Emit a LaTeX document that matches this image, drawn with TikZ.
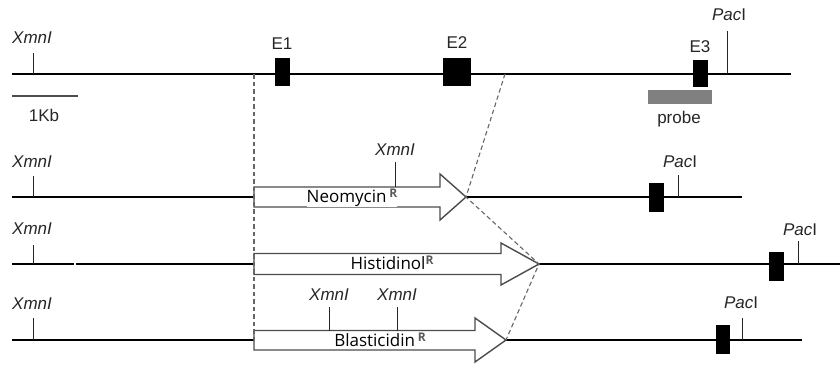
\documentclass[tikz,border=0pt]{standalone}
\usepackage{fontspec}
\setmainfont{Liberation Sans}
\newfontfamily\arrfont{Open Sans}
\begin{document}
\begin{tikzpicture}[x=1pt,y=-1pt,
  chrom/.style={line width=2pt,black},
  tick/.style={line width=1pt,black!85},
  exon/.style={fill=black,draw=black,line width=0.5pt},
  lbl/.style={font=\fontsize{17}{17}\selectfont,inner sep=0pt,text=black!85},
  enz/.style={font=\fontsize{17}{17}\selectfont\itshape,inner sep=0pt,text=black!85},
  cassette/.style={draw=black!70,fill=white,line width=1.4pt,line join=miter},
  alab/.style={font=\arrfont\fontsize{17}{17}\selectfont,inner sep=0pt,fill=white},
  guide/.style={line width=1.1pt,black!60,dash pattern=on 4.5pt off 3pt}]
\useasboundingbox (0,0) rectangle (840,367);

% ---------- Row 1: genomic locus ----------
\coordinate (r1a) at (12,74);
\coordinate (r1b) at (791,74);
\draw[chrom] (r1a) -- (r1b);
\coordinate (x1t) at (33,53); \coordinate (x1b) at (33,74);
\draw[tick] (x1t) -- (x1b);
\node[enz] (x1) at (32,38) {XmnI};
\coordinate (p1t) at (727,31); \coordinate (p1b) at (727,74);
\draw[tick] (p1t) -- (p1b);
\node[lbl] (p1) at (729,15) {\textit{Pac}I};
\node[exon,minimum width=14pt,minimum height=27pt,inner sep=0pt] (e1) at (282,71.5) {};
\node[exon,minimum width=27pt,minimum height=27pt,inner sep=0pt] (e2) at (456.5,71.5) {};
\node[exon,minimum width=14pt,minimum height=26pt,inner sep=0pt] (e3) at (700,73) {};
\node[lbl] (e1l) at (282,44) {E1};
\node[lbl] (e2l) at (457,43) {E2};
\node[lbl] (e3l) at (700,47) {E3};
\node[fill=black!50,minimum width=64pt,minimum height=14pt,inner sep=0pt] (probe) at (680,97) {};
\node[lbl] (probel) at (679,119) {probe};
\coordinate (sbA) at (12,96); \coordinate (sbB) at (78,96);
\draw[line width=1.3pt,black!70] (sbA) -- (sbB);
\node[lbl] (kb) at (44,115) {1Kb};

% ---------- Row 2: Neomycin ----------
\coordinate (r2a) at (12,197); \coordinate (r2t) at (254,197);
\coordinate (r2h) at (466,197); \coordinate (r2b) at (742,197);
\draw[chrom] (r2a) -- (r2t);
\draw[chrom] (r2h) -- (r2b);
\draw[cassette] (254,187) -- (440,187) -- (440,174) -- (r2h) -- (440,220) -- (440,207) -- (254,207) -- cycle;
\node[alab] (neo) at (352,198) {Neomycin\,\raisebox{0.6ex}{\fontsize{12}{12}\selectfont\bfseries\color{black!65}R}};
\draw[tick] (33,176) -- (33,197);
\node[enz] (x2) at (32,162) {XmnI};
\draw[tick] (395,162) -- (395,187);
\node[enz] (x2n) at (395,150) {XmnI};
\node[exon,minimum width=14pt,minimum height=28pt,inner sep=0pt] (e3n) at (656,197) {};
\draw[tick] (678,175) -- (678,197);
\node[lbl] (p2) at (680,162) {\textit{Pac}I};

% ---------- Row 3: Histidinol ----------
\coordinate (r3a) at (12,264); \coordinate (r3t) at (254,264);
\coordinate (r3h) at (539,264); \coordinate (r3b) at (840,264);
\draw[chrom] (r3a) -- (74,264);
\draw[chrom] (76,264) -- (r3t);
\draw[chrom] (r3h) -- (r3b);
\draw[cassette] (254,253.5) -- (501,253.5) -- (501,243) -- (r3h) -- (501,285) -- (501,274.5) -- (254,274.5) -- cycle;
\node[alab] (his) at (392,263) {Histidinol\raisebox{0.6ex}{\fontsize{12}{12}\selectfont\bfseries\color{black!65}R}};
\draw[tick] (33,245) -- (33,264);
\node[enz] (x3) at (32,229) {XmnI};
\node[exon,minimum width=14pt,minimum height=28pt,inner sep=0pt] (e3h) at (776,266) {};
\draw[tick] (798,241) -- (798,264);
\node[lbl] (p3) at (800,230) {\textit{Pac}I};

% ---------- Row 4: Blasticidin ----------
\coordinate (r4a) at (12,340); \coordinate (r4t) at (254,340);
\coordinate (r4h) at (506,340); \coordinate (r4b) at (802,340);
\draw[chrom] (r4a) -- (r4t);
\draw[chrom] (r4h) -- (r4b);
\draw[cassette] (254,330.5) -- (475,330.5) -- (475,318) -- (r4h) -- (475,362) -- (475,350) -- (254,350) -- cycle;
\node[alab] (bla) at (380,340) {Blasticidin\,\raisebox{0.6ex}{\fontsize{12}{12}\selectfont\bfseries\color{black!65}R}};
\draw[tick] (33,318) -- (33,340);
\node[enz] (x4) at (32,304) {XmnI};
\draw[tick] (329,307) -- (329,330.5);
\node[enz] (x4a) at (329,295) {XmnI};
\draw[tick] (397,307) -- (397,330.5);
\node[enz] (x4b) at (397,295) {XmnI};
\node[exon,minimum width=13pt,minimum height=28pt,inner sep=0pt] (e3b) at (722.5,339) {};
\draw[tick] (742,318) -- (742,340);
\node[lbl] (p4) at (741,303) {\textit{Pac}I};

% ---------- dashed homology guides ----------
\coordinate (gl) at (254,74);
\coordinate (gr) at (505,74);
\draw[guide] (gl) -- (r4t);
\draw[guide] (gr) -- (r2h) -- (r3h) -- (r4h);
\end{tikzpicture}
\end{document}
